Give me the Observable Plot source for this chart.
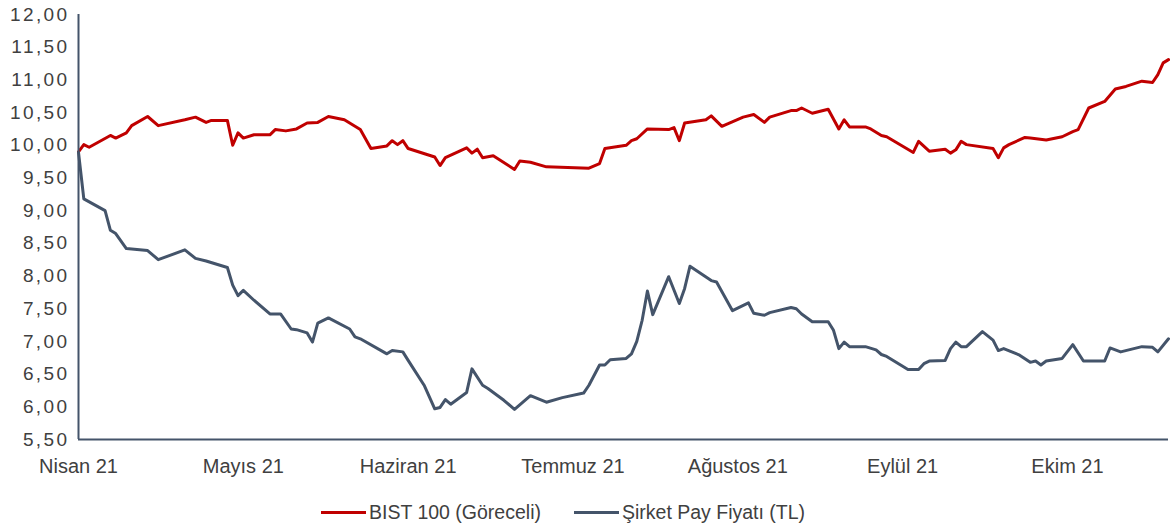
<!DOCTYPE html>
<html>
<head>
<meta charset="utf-8">
<script src="https://cdn.jsdelivr.net/npm/d3@7"></script>
<script src="https://cdn.jsdelivr.net/npm/@observablehq/plot@0.6"></script>
<style>
  body { margin: 0; background: #fff; font-family: "Liberation Sans", Arial, sans-serif; }
  #legend { display: flex; justify-content: flex-start; align-items: center; gap: 33px; margin-top: 19px; padding-left: 321px; font-size: 19.5px; color: #404040; }
  .item { display: flex; align-items: center; }
  .sw { width: 45px; height: 3px; margin-right: 3px; }
  g[aria-label="y-axis tick label"] text { letter-spacing: 2.4px; }
</style>
</head>
<body>
<div id="chart"></div>
<div id="legend"></div>
<script>
// Month labels and their day positions (days since 1 April 2021)
const ayEtiketleri = ["Nisan 21", "Mayıs 21", "Haziran 21", "Temmuz 21", "Ağustos 21", "Eylül 21", "Ekim 21"];
const ayGunleri = [0, 31, 62, 93, 124, 155, 186];
const yTikler = [5.5, 6, 6.5, 7, 7.5, 8, 8.5, 9, 9.5, 10, 10.5, 11, 11.5, 12];

const seriler = ["BIST 100 (Göreceli)", "Şirket Pay Fiyatı (TL)"];
const renkler = ["#C00000", "#44546A"];

// BIST 100 (relative)
const bistGun = [0,1,2,6,7,9,10,13,15,20,22,24,25,28,29,30,31,33,36,37,39,41,43,45,47,50,53,55,58,59,60,61,62,67,68,69,73,74,75,76,78,82,83,85,88,96,98,99,103,104,105,107,111,112,113,114,118,119,121,125,127,129,130,134,135,136,138,141,143,144,145,148,149,151,152,157,158,160,163,164,165,166,167,172,173,174,175,178,179,182,185,187,188,190,193,195,197,200,202,203,204,205];
const bistDeger = [9.90,10.01,9.97,10.15,10.11,10.19,10.30,10.44,10.30,10.39,10.43,10.35,10.38,10.38,10.00,10.19,10.11,10.16,10.16,10.24,10.22,10.25,10.34,10.35,10.44,10.39,10.24,9.95,9.99,10.07,10.01,10.07,9.95,9.82,9.69,9.81,9.96,9.88,9.94,9.81,9.84,9.63,9.76,9.74,9.67,9.65,9.72,9.95,10.00,10.07,10.10,10.25,10.24,10.27,10.07,10.34,10.39,10.45,10.29,10.43,10.47,10.35,10.43,10.53,10.53,10.57,10.49,10.55,10.25,10.39,10.28,10.28,10.25,10.15,10.13,9.89,10.06,9.91,9.94,9.88,9.93,10.06,10.01,9.95,9.81,9.96,10.01,10.12,10.11,10.08,10.13,10.21,10.24,10.57,10.67,10.86,10.90,10.98,10.96,11.08,11.26,11.31];

// Company share price (TL)
const sirketGun = [0,1,5,6,7,9,13,15,20,22,24,28,29,30,31,33,36,38,40,41,43,44,45,47,51,52,53,58,59,61,62,65,67,68,69,70,73,74,76,77,80,82,85,88,91,95,96,98,99,100,103,104,105,106,107,108,111,113,114,115,119,120,123,126,127,129,130,134,135,136,138,141,142,143,144,145,148,150,151,152,156,158,159,160,163,164,165,166,167,170,172,173,174,177,179,180,181,182,185,187,189,193,194,196,200,202,203,205];
const sirketDeger = [9.89,9.18,9.00,8.70,8.65,8.42,8.39,8.25,8.40,8.27,8.23,8.13,7.86,7.70,7.78,7.63,7.42,7.42,7.19,7.18,7.13,6.99,7.28,7.36,7.19,7.07,7.04,6.81,6.86,6.84,6.71,6.33,5.97,5.99,6.11,6.04,6.22,6.58,6.33,6.28,6.10,5.96,6.17,6.07,6.14,6.21,6.33,6.64,6.64,6.72,6.74,6.81,7.00,7.32,7.77,7.41,7.99,7.58,7.81,8.15,7.93,7.91,7.47,7.59,7.43,7.40,7.44,7.52,7.50,7.42,7.30,7.30,7.17,6.89,6.99,6.92,6.92,6.87,6.80,6.77,6.57,6.57,6.66,6.70,6.71,6.89,6.99,6.92,6.92,7.15,7.02,6.86,6.89,6.79,6.68,6.70,6.64,6.70,6.74,6.95,6.70,6.70,6.90,6.84,6.92,6.91,6.84,7.04];

const bist = bistGun.map((g, i) => ({gun: g, deger: bistDeger[i]}));
const sirket = sirketGun.map((g, i) => ({gun: g, deger: sirketDeger[i]}));
const sonGun = Math.max(bistGun[bistGun.length - 1], sirketGun[sirketGun.length - 1]);

const virgul = d => d.toFixed(2).replace(".", ",");

const chart = Plot.plot({
  width: 1170,
  height: 482,
  marginLeft: 78,
  marginRight: 2,
  marginTop: 14,
  marginBottom: 43,
  style: { fontFamily: "'Liberation Sans', Arial, sans-serif", color: "#404040", background: "#fff", overflow: "visible" },
  x: { domain: [ayGunleri[0], sonGun], axis: null },
  y: { domain: [yTikler[0], yTikler[yTikler.length - 1]], axis: null },
  marks: [
    Plot.axisY(yTikler, { anchor: "left", tickSize: 0, tickPadding: 9, fontSize: 19, tickFormat: virgul, label: null }),
    Plot.axisX(ayGunleri, { anchor: "bottom", tickSize: 0, tickPadding: 19, fontSize: 20, tickFormat: d => ayEtiketleri[ayGunleri.indexOf(d)], label: null }),
    Plot.line(bist, { x: "gun", y: "deger", stroke: renkler[0], strokeWidth: 3, strokeLinejoin: "round" }),
    Plot.line(sirket, { x: "gun", y: "deger", stroke: renkler[1], strokeWidth: 3, strokeLinejoin: "round" }),
    Plot.ruleX([ayGunleri[0]], { stroke: renkler[1], strokeWidth: 2 }),
    Plot.ruleY([yTikler[0]], { stroke: renkler[1], strokeWidth: 2 })
  ]
});
document.getElementById("chart").appendChild(chart);
// widen the y tick labels like the reference
chart.querySelectorAll('g[aria-label="y-axis tick label"] text').forEach(t => t.style.letterSpacing = "2.4px");

const legend = document.getElementById("legend");
seriler.forEach((s, i) => {
  const item = document.createElement("div");
  item.className = "item";
  const sw = document.createElement("span");
  sw.className = "sw";
  sw.style.background = renkler[i];
  const t = document.createElement("span");
  t.textContent = s;
  item.appendChild(sw);
  item.appendChild(t);
  legend.appendChild(item);
});
</script>
</body>
</html>
